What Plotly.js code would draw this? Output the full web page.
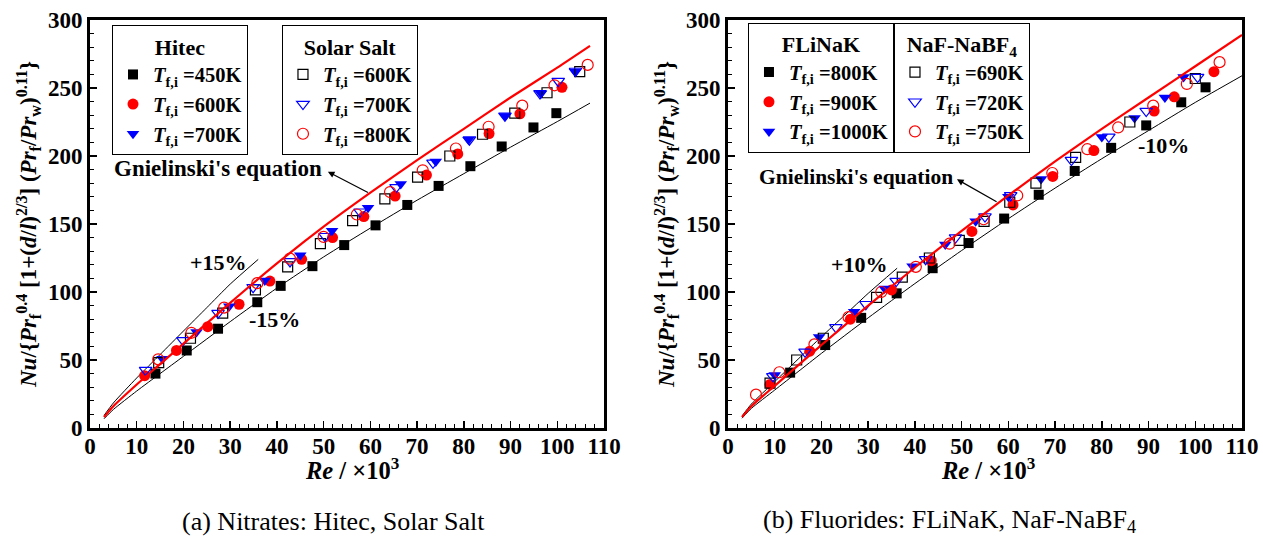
<!DOCTYPE html>
<html><head><meta charset="utf-8">
<script src="https://cdn.plot.ly/plotly-3.0.1.min.js"></script>
<style>html,body{margin:0;padding:0;background:#fff;} #chart{width:1263px;height:541px;}</style>
</head><body><div id="chart"></div>
<script>
// ---------- Panel (a): Nitrates ----------
const hitec450X = [14.0, 20.7, 27.4, 35.8, 40.8, 47.6, 54.4, 61.1, 67.9, 74.6, 81.4, 88.1, 94.9, 99.8];
const hitec450Y = [40, 57, 73, 92.5, 104.5, 119, 134.5, 149, 164, 178, 192.5, 207, 221, 231.5];
const hitec600X = [11.7, 18.5, 25.2, 31.9, 38.5, 45.3, 51.9, 58.6, 65.3, 72.0, 78.7, 85.4, 92.0, 101.0];
const hitec600Y = [38.5, 57, 74.5, 91, 108, 124, 140, 155.5, 170.5, 186, 201.5, 216.5, 231, 250.5];
const hitec700X = [15.5, 22.8, 29.8, 37.4, 45.0, 51.8, 59.5, 66.5, 74.0, 81.0, 88.8, 96.5, 103.8];
const hitec700Y = [51, 70.5, 89.5, 108.5, 127, 145, 162, 179.5, 196, 212, 229.5, 246, 262];
const solar600X = [14.7, 21.5, 28.4, 35.4, 42.3, 49.3, 56.2, 63.1, 70.1, 77.0, 84.0, 90.9, 97.8, 104.8];
const solar600Y = [48, 66, 84.5, 101.5, 118.5, 135.5, 152.5, 168.5, 184.5, 200, 216, 231.5, 246.5, 262];
const solar700X = [11.9, 19.9, 27.4, 34.9, 42.8, 50.3, 57.8, 65.5, 73.4, 81.2, 88.8, 96.3, 100.2, 103.9];
const solar700Y = [42.5, 64.5, 84.5, 103.5, 122.5, 141, 159, 177, 195, 212, 229.5, 246, 255, 262.5];
const solar800X = [14.6, 21.7, 28.7, 35.8, 42.8, 50.0, 57.1, 64.2, 71.2, 78.3, 85.3, 92.5, 99.4, 106.5];
const solar800Y = [50.5, 70, 88.5, 106.5, 124.5, 140.5, 157, 173.5, 189.5, 205.5, 221.5, 237, 252, 267];
// Gnielinski's equation and deviation bands (panel a)
const gnA_X = [3, 5, 10, 15, 20, 30, 40, 50, 60, 70, 80, 90, 100, 107];
const gnA_Y = [8, 16, 32, 47, 62, 92, 121, 148, 173, 197, 220, 243, 265, 281];
const minus15Y = [6.8, 13.6, 27.2, 40, 52.7, 78.2, 102.9, 125.8, 147, 167.5, 187, 206.5, 225.3, 238.9];
const plus15X = [3, 5, 10, 15, 20, 25, 30, 36];
const plus15Y = [9.2, 18.4, 36.8, 54, 71.3, 88.5, 105.8, 124];

// ---------- Panel (b): Fluorides ----------
const flinak800X = [13.3, 20.8, 28.5, 36.1, 43.8, 51.5, 59.1, 66.5, 74.2, 82.0, 89.5, 97.0, 102.2];
const flinak800Y = [40.7, 61, 81, 99, 117.5, 136, 154, 171.5, 189, 206, 222.5, 239.5, 250.5];
const flinak900X = [9.0, 17.5, 26.2, 35.0, 43.5, 52.2, 61.0, 69.5, 78.3, 91.2, 95.5, 104.0];
const flinak900Y = [32, 56.5, 80, 101.5, 123, 144.5, 164, 185, 204, 233, 243.5, 262];
const flinak1000X = [10.0, 19.5, 27.0, 33.5, 39.5, 46.5, 53.0, 60.0, 67.0, 80.0, 87.0, 93.5, 97.5];
const flinak1000Y = [39, 67, 85.5, 102.5, 119, 135, 152, 170, 183, 214, 228, 243, 258];
const naf690X = [9.0, 14.7, 20.4, 31.8, 37.3, 43.1, 49.5, 54.8, 60.3, 65.9, 74.4, 86.0, 100.0];
const naf690Y = [33, 50, 66, 96, 111, 125, 138, 152, 166, 180, 199, 225, 257];
const naf720X = [9.6, 16.5, 23.1, 29.5, 36.0, 42.3, 48.7, 55.0, 60.5, 73.5, 81.5, 89.5, 100.5];
const naf720Y = [38, 56, 74, 91, 108, 124, 140, 155.5, 171, 197, 214, 233, 258];
const naf750X = [6.0, 11.0, 18.5, 25.8, 32.8, 40.2, 47.4, 54.7, 61.9, 69.4, 76.9, 83.5, 91.0, 98.2, 105.2];
const naf750Y = [24.5, 41, 61.5, 81.5, 100, 118.5, 135.5, 153.5, 171, 187.5, 205, 221, 237, 253, 269];
// Gnielinski's equation and deviation bands (panel b)
const gnB_X = [3, 5, 10, 15, 20, 30, 40, 50, 60, 70, 80, 90, 100, 110];
const gnB_Y = [8, 16, 31, 46, 61, 90, 118, 145, 171, 196, 220, 243, 266, 289];
const minus10Y = [7.2, 14.4, 27.9, 41.4, 54.9, 81, 106.2, 130.5, 153.9, 176.4, 198, 218.7, 239.4, 259];
const plus10X = [3, 5, 10, 15, 20, 25, 30, 36.2];
const plus10Y = [8.8, 17.6, 34.1, 50.6, 67.1, 83, 99, 117.5];

const legendLabelsA = ['=450K', '=600K', '=700K'];
const legendLabelsA2 = ['=600K', '=700K', '=800K'];
const legendLabelsB = ['=800K', '=900K', '=1000K'];
const legendLabelsB2 = ['=690K', '=720K', '=750K'];

const F = '"Liberation Serif", "DejaVu Serif", serif';
const RED = '#ff0000', BLUE = '#0000ff', BLK = '#000000';
const lab = t => '<b><i>T</i><sub>f,i</sub> ' + t + '</b>';

function pts(x, y, label, symbol, color, size, xa, ya, leg) {
  const open = symbol.indexOf('open') >= 0;
  return {x: x, y: y, type: 'scatter', mode: 'markers', name: lab(label), legend: leg,
    xaxis: xa, yaxis: ya, cliponaxis: false,
    marker: {symbol: symbol, size: size, color: color,
      line: {color: color, width: open ? 1.2 : 0}}};
}
function ln(x, y, color, w, xa, ya) {
  return {x: x, y: y, type: 'scatter', mode: 'lines', showlegend: false,
    xaxis: xa, yaxis: ya, line: {color: color, width: w, shape: 'spline', smoothing: 0.6}, hoverinfo: 'skip'};
}

const traces = [
  ln(gnA_X, minus15Y, BLK, 1, 'x', 'y'),
  ln(plus15X, plus15Y, BLK, 1, 'x', 'y'),
  ln(gnB_X, minus10Y, BLK, 1, 'x2', 'y2'),
  ln(plus10X, plus10Y, BLK, 1, 'x2', 'y2'),
  pts(hitec450X, hitec450Y, legendLabelsA[0], 'square', BLK, 10, 'x', 'y', 'legend'),
  pts(hitec600X, hitec600Y, legendLabelsA[1], 'circle', RED, 11, 'x', 'y', 'legend'),
  pts(hitec700X, hitec700Y, legendLabelsA[2], 'triangle-down', BLUE, 11, 'x', 'y', 'legend'),
  pts(solar600X, solar600Y, legendLabelsA2[0], 'square-open', BLK, 10, 'x', 'y', 'legend2'),
  pts(solar700X, solar700Y, legendLabelsA2[1], 'triangle-down-open', BLUE, 11, 'x', 'y', 'legend2'),
  pts(solar800X, solar800Y, legendLabelsA2[2], 'circle-open', RED, 11, 'x', 'y', 'legend2'),
  pts(flinak800X, flinak800Y, legendLabelsB[0], 'square', BLK, 10, 'x2', 'y2', 'legend3'),
  pts(flinak900X, flinak900Y, legendLabelsB[1], 'circle', RED, 11, 'x2', 'y2', 'legend3'),
  pts(flinak1000X, flinak1000Y, legendLabelsB[2], 'triangle-down', BLUE, 11, 'x2', 'y2', 'legend3'),
  pts(naf690X, naf690Y, legendLabelsB2[0], 'square-open', BLK, 10, 'x2', 'y2', 'legend4'),
  pts(naf720X, naf720Y, legendLabelsB2[1], 'triangle-down-open', BLUE, 11, 'x2', 'y2', 'legend4'),
  pts(naf750X, naf750Y, legendLabelsB2[2], 'circle-open', RED, 11, 'x2', 'y2', 'legend4'),
  ln(gnA_X, gnA_Y, RED, 2.2, 'x', 'y'),
  ln(gnB_X, gnB_Y, RED, 2.2, 'x2', 'y2')
];

function xax(dom, anchor) {
  return {domain: dom, anchor: anchor, range: [0, 110], tick0: 0, dtick: 10,
    ticks: 'inside', ticklen: 7, tickwidth: 1.5, tickcolor: BLK, ticklabelstandoff: -5,
    minor: {dtick: 2, ticks: 'inside', ticklen: 4, tickwidth: 1, tickcolor: BLK},
    showline: true, linewidth: 3, linecolor: BLK, mirror: true, showgrid: false, zeroline: false,
    tickfont: {family: F, size: 23, color: BLK, weight: 'bold'},
    title: {text: ''}};
}
const yTitle = '<b><i>Nu</i>/{<i>Pr</i><sub>f</sub><sup>0.4</sup> [1+(<i>d</i>/<i>l</i>)<sup>2/3</sup>] (<i>Pr</i><sub>f</sub>/<i>Pr</i><sub>w</sub>)<sup>0.11</sup>}</b>';
const xTitle = '<b><i>Re</i> / ×10<sup>3</sup></b>';
function yax(anchor) {
  return {domain: [0, 1], anchor: anchor, range: [0, 300], tick0: 0, dtick: 50,
    ticks: 'inside', ticklen: 7, tickwidth: 1.5, tickcolor: BLK,
    minor: {dtick: 10, ticks: 'inside', ticklen: 4, tickwidth: 1, tickcolor: BLK},
    showline: true, linewidth: 3, linecolor: BLK, mirror: true, showgrid: false, zeroline: false,
    tickfont: {family: F, size: 23, color: BLK, weight: 'bold'},
    title: {text: yTitle, font: {family: F, size: 23, color: BLK}, standoff: 5}};
}
function legendCfg(x, y, xanchor, title) {
  return {x: x, y: y, xanchor: xanchor, yanchor: 'top', bgcolor: '#ffffff',
    bordercolor: BLK, borderwidth: 1, font: {family: F, size: 20.5, color: BLK},
    title: {text: '<b>' + title + '</b>', side: 'top center', font: {family: F, size: 22, color: BLK}},
    itemwidth: 30, tracegroupgap: 0, itemclick: false};
}
const tfont = s => ({family: F, size: s, color: BLK});
const annotations = [
  {xref: 'x', yref: 'y', x: 27.4, y: 190.5, xanchor: 'center', text: "<b>Gnielinski's equation</b>", showarrow: false, font: tfont(23)},
  {xref: 'x', yref: 'y', x: 50.9, y: 188.5, ax: 59.8, ay: 172.6, axref: 'x', ayref: 'y', text: '', showarrow: true, arrowhead: 2, arrowsize: 1.1, arrowwidth: 1.2, arrowcolor: BLK},
  {xref: 'x', yref: 'y', x: 27.5, y: 121.6, xanchor: 'center', text: '<b>+15%</b>', showarrow: false, font: tfont(22)},
  {xref: 'x', yref: 'y', x: 39.4, y: 79.9, xanchor: 'center', text: '<b>-15%</b>', showarrow: false, font: tfont(22)},
  {xref: 'x2', yref: 'y2', x: 27.5, y: 184.3, xanchor: 'center', text: "<b>Gnielinski's equation</b>", showarrow: false, font: tfont(21.5)},
  {xref: 'x2', yref: 'y2', x: 49.0, y: 182.9, ax: 57.8, ay: 165.7, axref: 'x2', ayref: 'y2', text: '', showarrow: true, arrowhead: 2, arrowsize: 1.1, arrowwidth: 1.2, arrowcolor: BLK},
  {xref: 'x2', yref: 'y2', x: 28.2, y: 119.9, xanchor: 'center', text: '<b>+10%</b>', showarrow: false, font: tfont(22)},
  {xref: 'x2', yref: 'y2', x: 93.3, y: 208, xanchor: 'center', text: '<b>-10%</b>', showarrow: false, font: tfont(22)},
  {xref: 'paper', yref: 'paper', x: 0.2270, y: -0.101, xanchor: 'center', yanchor: 'middle', text: xTitle, showarrow: false, font: tfont(24.5)},
  {xref: 'paper', yref: 'paper', x: 0.7795, y: -0.101, xanchor: 'center', yanchor: 'middle', text: xTitle, showarrow: false, font: tfont(24.5)},
  {xref: 'paper', yref: 'paper', x: 0.2118, y: -0.228, xanchor: 'center', yanchor: 'middle', text: '(a) Nitrates: Hitec, Solar Salt', showarrow: false, font: tfont(26)},
  {xref: 'paper', yref: 'paper', x: 0.7457, y: -0.228, xanchor: 'center', yanchor: 'middle', text: '(b) Fluorides: FLiNaK, NaF-NaBF<sub>4</sub>', showarrow: false, font: tfont(26)}
];

const layout = {
  width: 1263, height: 541, margin: {l: 90, r: 21, t: 20, b: 113},
  paper_bgcolor: '#ffffff', plot_bgcolor: '#ffffff',
  font: {family: F, color: BLK},
  xaxis: xax([0, 0.4462], 'y'), yaxis: yax('x'),
  xaxis2: xax([0.5538, 1], 'y2'), yaxis2: yax('x2'),
  legend: legendCfg(0.0191, 0.9877, 'left', 'Hitec'),
  legend2: legendCfg(0.2847, 0.9877, 'right', 'Solar Salt'),
  legend3: legendCfg(0.6979, 0.9934, 'right', 'FLiNaK'),
  legend4: legendCfg(0.6979, 0.9934, 'left', 'NaF-NaBF<sub>4</sub>'),
  annotations: annotations, showlegend: true
};
Plotly.newPlot('chart', traces, layout, {displayModeBar: false, staticPlot: true});
</script></body></html>
